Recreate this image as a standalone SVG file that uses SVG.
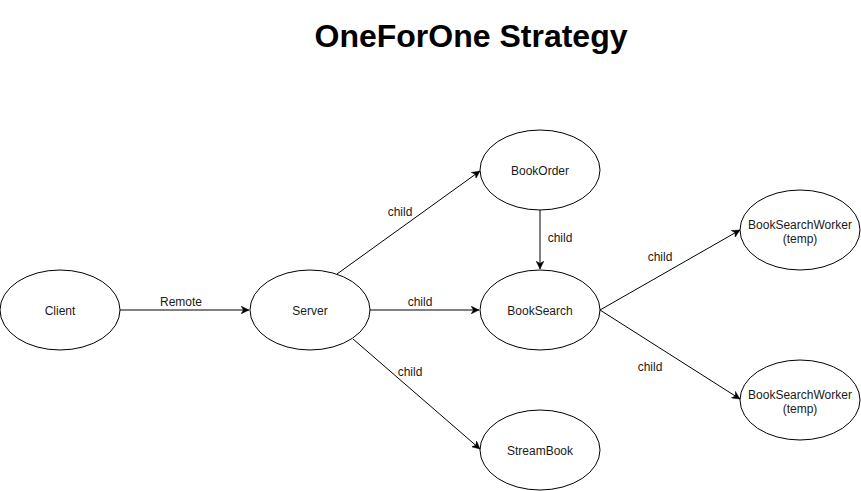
<svg xmlns="http://www.w3.org/2000/svg" width="861" height="491" viewBox="0 0 861 491">
<style>
.node ellipse{fill:#ffffff;stroke:#000000;stroke-width:1}
.node text{font-family:"Liberation Sans",Arial,sans-serif;font-size:12px;fill:#1a1a1a;text-anchor:middle}
.edge{stroke:#000000;stroke-width:1;fill:none;marker-end:url(#arrow)}
.lbl{font-family:"Liberation Sans",Arial,sans-serif;font-size:12px;fill:#1a1a1a;text-anchor:middle}
.title{font-family:"Liberation Sans",Arial,sans-serif;font-size:32px;font-weight:bold;fill:#000000;text-anchor:middle}
</style>
<defs>
<marker id="arrow" viewBox="0 0 10 10" refX="10" refY="5" markerWidth="8" markerHeight="8" markerUnits="userSpaceOnUse" orient="auto">
<path d="M0,0 L10,5 L0,10 L3,5 Z" fill="#000000" stroke="#000000" stroke-width="0.5"/>
</marker>
</defs>
<rect width="861" height="491" fill="#ffffff"/>
<text class="title" x="471" y="47">OneForOne Strategy</text>
<g id="connectors">
<line class="edge" x1="120" y1="310" x2="249" y2="310"/>
<line class="edge" x1="337" y1="274" x2="480" y2="171"/>
<line class="edge" x1="370" y1="310" x2="479" y2="310"/>
<line class="edge" x1="353" y1="339" x2="480" y2="449"/>
<line class="edge" x1="540" y1="210" x2="540" y2="269"/>
<line class="edge" x1="600" y1="310" x2="740" y2="230"/>
<line class="edge" x1="600" y1="310" x2="740" y2="399"/>
<text class="lbl" x="181" y="306">Remote</text>
<text class="lbl" x="400" y="216">child</text>
<text class="lbl" x="420" y="306">child</text>
<text class="lbl" x="410" y="376">child</text>
<text class="lbl" x="560" y="242">child</text>
<text class="lbl" x="660" y="261">child</text>
<text class="lbl" x="650" y="371">child</text>
</g>
<g id="client" class="node"><ellipse cx="60" cy="310" rx="60" ry="40"/><text x="60" y="315">Client</text></g>
<g id="server" class="node"><ellipse cx="310" cy="310" rx="60" ry="40"/><text x="310" y="315">Server</text></g>
<g id="bookorder" class="node"><ellipse cx="540" cy="170" rx="60" ry="40"/><text x="540" y="175">BookOrder</text></g>
<g id="booksearch" class="node"><ellipse cx="540" cy="310" rx="60" ry="40"/><text x="540" y="315">BookSearch</text></g>
<g id="streambook" class="node"><ellipse cx="540" cy="450" rx="60" ry="40"/><text x="540" y="455">StreamBook</text></g>
<g id="worker1" class="node"><ellipse cx="800" cy="230" rx="60" ry="40"/><text x="800" y="229">BookSearchWorker</text><text x="800" y="243">(temp)</text></g>
<g id="worker2" class="node"><ellipse cx="800" cy="400" rx="60" ry="40"/><text x="800" y="399">BookSearchWorker</text><text x="800" y="413">(temp)</text></g>
</svg>
